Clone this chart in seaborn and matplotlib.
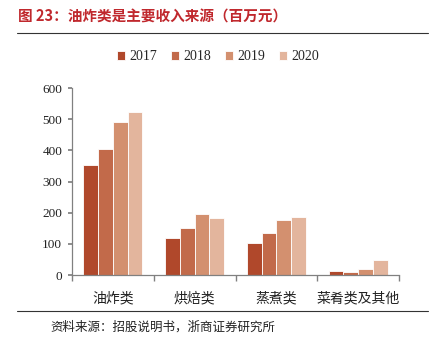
import numpy as np
import matplotlib
matplotlib.use("Agg")
import matplotlib.pyplot as plt
import pandas as pd
import seaborn as sns

categories = ["油炸类", "烘焙类", "蒸煮类", "菜肴类及其他"]
years = ["2017", "2018", "2019", "2020"]
v2017 = [353, 118, 104, 14]
v2018 = [403, 152, 134, 9]
v2019 = [492, 197, 175, 20]
v2020 = [522, 183, 186, 48]
palette = ["#B0482B", "#C26A4A", "#D3906F", "#E3B59D"]

df = pd.DataFrame({
    "cat": categories * 4,
    "year": [y for y in years for _ in categories],
    "val": v2017 + v2018 + v2019 + v2020,
})

sns.set_theme(style="white")
plt.rcParams["font.family"] = ["Liberation Serif", "Noto Sans CJK SC"]

fig = plt.figure(figsize=(4.31, 3.51), dpi=100)
ax = fig.add_axes([0.167, 0.2165, 0.759, 0.5325])

sns.barplot(data=df, x="cat", y="val", hue="year", palette=palette,
            saturation=1, width=0.72, gap=0, edgecolor="white", linewidth=0.6,
            ax=ax, legend=True)

ax.set_ylim(0, 600)
ax.set_xlim(-0.5, 3.5)
ax.set_yticks(range(0, 601, 100))
ax.set_xlabel("")
ax.set_ylabel("")
for s in ["top", "right"]:
    ax.spines[s].set_visible(False)
for s in ["left", "bottom"]:
    ax.spines[s].set_color("#808080")
    ax.spines[s].set_linewidth(0.9)

ax.tick_params(axis="y", which="major", left=True, length=3, color="#808080",
               labelsize=9.5, pad=4)
ax.tick_params(axis="x", which="major", bottom=False, pad=6)
ax.set_xticks(np.arange(-0.5, 4.0, 1.0), minor=True)
ax.tick_params(axis="x", which="minor", bottom=True, length=4, color="#808080")
for lab in ax.get_xticklabels():
    lab.set_fontfamily(["Noto Sans CJK SC"])
    lab.set_fontsize(10)
    lab.set_fontweight("light")
    lab.set_color("#222222")
for lab in ax.get_yticklabels():
    lab.set_color("#222222")

handles, labels = ax.get_legend_handles_labels()
ax.legend(handles, labels, loc="center", bbox_to_anchor=(218 / 431, 1 - 57 / 351),
          bbox_transform=fig.transFigure, ncol=4, frameon=False, fontsize=10,
          handlelength=0.6, handleheight=0.6, handletextpad=0.3, columnspacing=1.0)

fig.text(18 / 431, 1 - 17 / 351, "图 23：油炸类是主要收入来源（百万元）",
         fontsize=10.5, fontweight="bold", color="#C0282D",
         family=["Noto Sans CJK SC", "DejaVu Sans"], va="center", ha="left")
fig.add_artist(plt.Line2D([17 / 431, 428 / 431], [1 - 33 / 351, 1 - 33 / 351],
                          color="#333333", linewidth=0.8, transform=fig.transFigure))
fig.add_artist(plt.Line2D([17 / 431, 428 / 431], [1 - 311 / 351, 1 - 311 / 351],
                          color="#333333", linewidth=0.8, transform=fig.transFigure))
fig.text(50 / 431, 1 - 327 / 351, "资料来源：招股说明书，浙商证券研究所",
         fontsize=9, color="#222222", fontweight="light",
         family=["Noto Sans CJK SC", "DejaVu Sans"], va="center", ha="left")

fig.savefig("out.png", dpi=100)
